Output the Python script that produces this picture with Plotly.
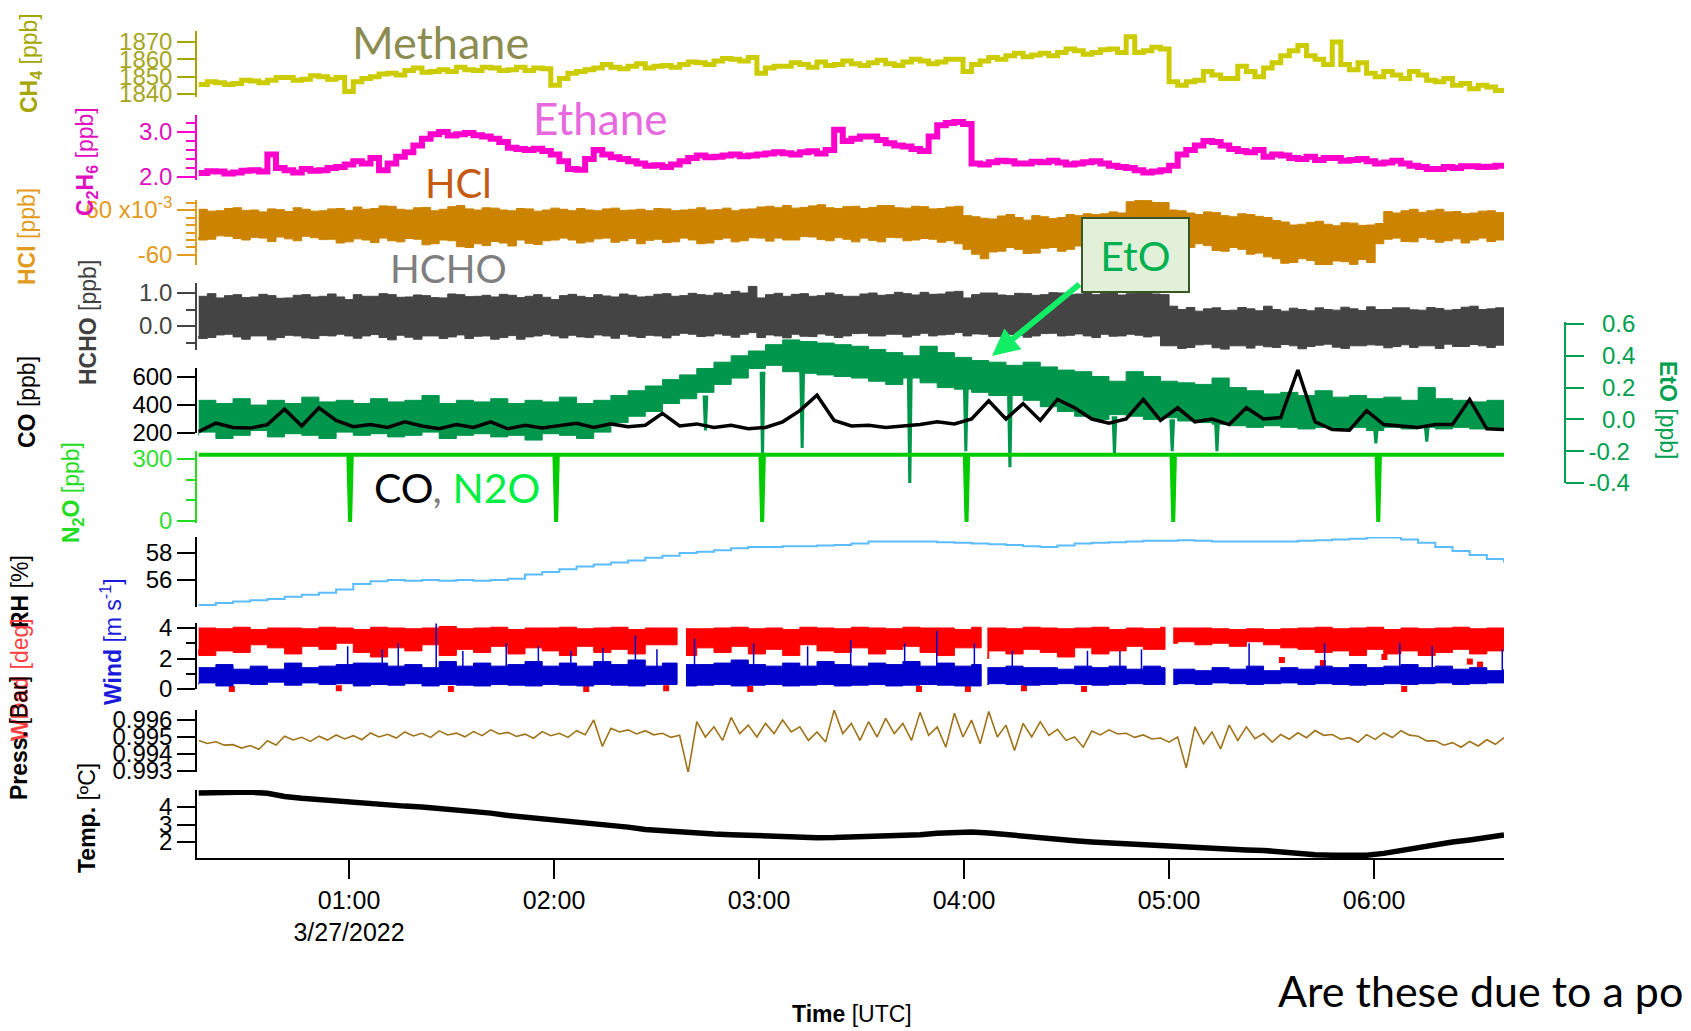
import pandas as pd
import plotly.graph_objects as go

W, H = 1691, 1031
DAY = pd.Timestamp("2022-03-27")

# ---------------- data ----------------
time = pd.date_range("2022-03-27 00:16", "2022-03-27 06:38", periods=77)    # 5-min grid
time2 = pd.date_range("2022-03-27 00:16", "2022-03-27 06:38", periods=153)  # 2.5-min grid

ch4 = [1845.5, 1847, 1846.5, 1845.5, 1846, 1848, 1847.5, 1846.5, 1848, 1849.5,
       1849.5, 1848, 1848.5, 1850.5, 1850, 1848.5, 1849.5, 1841.5, 1847, 1849,
       1850, 1851.5, 1852, 1851, 1853.5, 1855, 1852.5, 1853, 1854, 1853,
       1855.5, 1854, 1853.5, 1855.5, 1855, 1853.5, 1854, 1855.5, 1853.5, 1855,
       1854.5, 1845, 1849, 1852, 1853, 1854, 1855, 1857, 1855.5, 1854.5,
       1856, 1857.5, 1855, 1856, 1856.5, 1855.5, 1857, 1858.5, 1858, 1857,
       1859, 1860.5, 1860, 1859, 1861, 1852, 1855, 1856, 1856, 1858,
       1857, 1855.5, 1858.5, 1856.5, 1857, 1859, 1857.5, 1856.5, 1858, 1859.5,
       1857.5, 1856.5, 1858.5, 1860, 1859, 1857.5, 1858.5, 1860, 1860, 1853,
       1857, 1859, 1861, 1860, 1862, 1863.5, 1861.5, 1862.5, 1863.5, 1862,
       1864, 1866, 1865, 1863, 1864, 1865.5, 1866, 1864, 1873, 1864,
       1865, 1867, 1866, 1847, 1845, 1847, 1848, 1853, 1851, 1849,
       1849, 1856, 1853, 1850, 1855, 1858, 1862, 1865, 1868, 1862,
       1860, 1857, 1870, 1857, 1854, 1858, 1852, 1850, 1853, 1851,
       1849, 1853, 1851, 1848, 1847, 1849, 1845, 1846, 1843, 1845,
       1844, 1842, 1843]

c2h6 = [2.09, 2.13, 2.12, 2.08, 2.10, 2.14, 2.15, 2.12, 2.5, 2.2,
        2.15, 2.1, 2.18, 2.14, 2.15, 2.2, 2.22, 2.28, 2.35, 2.3,
        2.42, 2.15, 2.3, 2.45, 2.55, 2.7, 2.85, 2.95, 3.0, 2.92,
        2.95, 2.98, 2.93, 2.9, 2.85, 2.78, 2.65, 2.62, 2.6, 2.63,
        2.58, 2.5, 2.35, 2.18, 2.16, 2.4, 2.6, 2.5, 2.44, 2.4,
        2.35, 2.3, 2.25, 2.26, 2.22, 2.28, 2.35, 2.42, 2.48, 2.44,
        2.45, 2.48, 2.5, 2.46, 2.48, 2.5, 2.52, 2.55, 2.53, 2.5,
        2.55, 2.57, 2.52, 2.6, 3.05, 2.8, 2.85, 2.9, 2.9, 2.82,
        2.75, 2.7, 2.68, 2.62, 2.58, 2.9, 3.15, 3.2, 3.22, 3.18,
        2.3, 2.28, 2.33, 2.36, 2.35, 2.3, 2.3, 2.34, 2.33, 2.36,
        2.32, 2.28, 2.3, 2.33, 2.35, 2.3, 2.25, 2.22, 2.2, 2.15,
        2.1, 2.12, 2.15, 2.25, 2.5, 2.6, 2.7, 2.8, 2.78, 2.7,
        2.62, 2.58, 2.55, 2.6, 2.45, 2.5, 2.48, 2.42, 2.4, 2.45,
        2.38, 2.42, 2.42, 2.36, 2.38, 2.4, 2.35, 2.3, 2.32, 2.36,
        2.3, 2.25, 2.22, 2.18, 2.18, 2.22, 2.2, 2.24, 2.24, 2.22,
        2.23, 2.25, 2.24]

hcl_hi = [62, 57, 58, 64, 66, 59, 60, 55, 63, 61,
          56, 66, 62, 57, 58, 63, 64, 59, 68, 62,
          64, 71, 70, 62, 60, 66, 67, 58, 62, 69,
          72, 63, 60, 66, 65, 60, 58, 64, 63, 57,
          60, 65, 62, 58, 64, 60, 58, 63, 65, 59,
          60, 62, 58, 64, 63, 58, 60, 62, 66, 60,
          61, 65, 58, 62, 63, 68, 70, 66, 72, 65,
          67, 71, 74, 66, 64, 69, 70, 64, 67, 72,
          72, 66, 65, 70, 69, 63, 64, 68, 70, 45,
          42, 38, 36, 44, 48, 40, 33, 45, 42, 37,
          40, 48, 45, 50, 48, 50, 55, 52, 82, 86,
          85, 80, 80, 60, 58, 52, 48, 55, 53, 45,
          42, 50, 48, 43, 40, 32, 28, 20, 22, 27,
          30, 22, 18, 26, 25, 19, 20, 24, 56, 52,
          58, 62, 54, 58, 62, 55, 56, 50, 52, 57,
          58, 53, 54]
hcl_lo = [-12, -20, -18, -9, -10, -16, -20, -13, -15, -24,
          -12, -17, -22, -10, -14, -19, -18, -28, -25, -17,
          -20, -27, -15, -22, -25, -16, -18, -33, -30, -20,
          -22, -38, -40, -30, -35, -24, -28, -36, -20, -29,
          -32, -22, -20, -15, -20, -28, -25, -17, -15, -26,
          -22, -16, -30, -21, -18, -27, -25, -15, -20, -30,
          -28, -19, -15, -25, -22, -14, -15, -23, -15, -20,
          -20, -11, -12, -19, -22, -14, -18, -25, -15, -21,
          -25, -13, -14, -22, -20, -16, -18, -26, -22, -30,
          -45, -58, -70, -52, -50, -40, -45, -56, -55, -42,
          -40, -50, -45, -36, -40, -30, -35, -26, -20, -27,
          -25, -18, -28, -22, -25, -38, -40, -30, -35, -48,
          -50, -40, -45, -58, -55, -65, -70, -82, -80, -70,
          -75, -90, -88, -76, -78, -85, -72, -80, -30, -18,
          -15, -24, -25, -14, -18, -26, -22, -17, -28, -20,
          -15, -24, -20]

hcho_hi = [0.9, 0.98, 0.85, 0.92, 0.95, 0.86, 0.88, 0.96, 0.92, 0.84,
           0.85, 0.93, 0.95, 0.88, 0.9, 0.97, 0.88, 0.8, 0.95, 0.9,
           0.9, 0.98, 0.95, 0.87, 0.88, 0.94, 0.92, 0.86, 0.85, 0.97,
           0.95, 0.89, 0.9, 0.93, 0.88, 0.96, 0.93, 0.86, 0.9, 0.95,
           0.87, 0.8, 0.92, 0.96, 0.9, 0.86, 0.95, 0.91, 0.88, 0.97,
           0.93, 0.88, 0.9, 0.96, 0.98, 0.9, 0.92, 0.99, 0.95, 0.93,
           1.0, 0.95, 1.05, 1.0, 1.2, 0.85, 0.95, 0.99, 0.9, 0.96,
           0.98, 0.9, 0.92, 1.0, 0.95, 0.9, 0.9, 0.97, 1.0, 0.93,
           0.95, 1.02, 0.98, 0.94, 1.02, 0.96, 0.97, 1.03, 1.05, 0.85,
           0.95, 1.0, 1.0, 0.94, 0.92, 0.99, 0.98, 0.93, 0.95, 1.01,
           1.0, 0.95, 0.97, 1.03, 0.95, 0.99, 1.0, 0.94, 0.98, 1.04,
           1.02, 0.97, 0.95, 0.6, 0.5, 0.56, 0.45, 0.52, 0.55, 0.47,
           0.48, 0.56, 0.52, 0.46, 0.6, 0.5, 0.45, 0.54, 0.5, 0.46,
           0.55, 0.5, 0.48, 0.57, 0.52, 0.47, 0.58, 0.5, 0.5, 0.55,
           0.55, 0.49, 0.48, 0.56, 0.53, 0.48, 0.5, 0.57, 0.6, 0.5,
           0.52, 0.55, 0.5]
hcho_lo = [-0.3, -0.38, -0.35, -0.27, -0.25, -0.33, -0.4, -0.3, -0.3, -0.42,
           -0.35, -0.28, -0.3, -0.36, -0.38, -0.29, -0.3, -0.25, -0.3, -0.37,
           -0.3, -0.26, -0.35, -0.42, -0.28, -0.34, -0.4, -0.3, -0.3, -0.38,
           -0.33, -0.27, -0.38, -0.31, -0.3, -0.4, -0.35, -0.29, -0.4, -0.33,
           -0.3, -0.25, -0.3, -0.36, -0.28, -0.33, -0.35, -0.27, -0.3, -0.37,
           -0.25, -0.31, -0.35, -0.28, -0.3, -0.36, -0.28, -0.22, -0.25, -0.32,
           -0.3, -0.24, -0.28, -0.34, -0.25, -0.2, -0.35, -0.27, -0.3, -0.36,
           -0.25, -0.31, -0.32, -0.24, -0.28, -0.35, -0.3, -0.23, -0.22, -0.3,
           -0.3, -0.25, -0.25, -0.33, -0.28, -0.22, -0.3, -0.27, -0.25, -0.2,
           -0.3, -0.24, -0.25, -0.32, -0.32, -0.26, -0.28, -0.34, -0.3, -0.23,
           -0.22, -0.3, -0.28, -0.24, -0.3, -0.35, -0.25, -0.31, -0.3, -0.25,
           -0.28, -0.33, -0.3, -0.6, -0.6, -0.68, -0.65, -0.57, -0.55, -0.66,
           -0.7, -0.6, -0.6, -0.67, -0.58, -0.63, -0.65, -0.56, -0.6, -0.69,
           -0.62, -0.58, -0.55, -0.64, -0.68, -0.6, -0.6, -0.57, -0.58, -0.66,
           -0.62, -0.57, -0.65, -0.6, -0.6, -0.68, -0.55, -0.62, -0.62, -0.56,
           -0.6, -0.65, -0.58]

co = [210, 270, 240, 235, 260, 370, 250, 380, 290, 245,
      260, 240, 280, 250, 230, 260, 240, 280, 230, 255,
      235, 250, 270, 240, 265, 245, 255, 340, 250, 265,
      240, 255, 230, 240, 280, 360, 470, 290, 250, 255,
      240, 250, 260, 280, 265, 300, 430, 300, 410, 290,
      440, 380, 300, 270, 300, 440, 290, 380, 280, 300,
      260, 380, 300, 310, 650, 280, 225, 220, 360, 260,
      250, 240, 260, 260, 440, 230, 225]

eto_hi = [0.12, 0.10, 0.13, 0.09, 0.12, 0.10, 0.14, 0.11, 0.12, 0.10,
          0.13, 0.11, 0.12, 0.15, 0.10, 0.12, 0.11, 0.13, 0.10, 0.12,
          0.11, 0.14, 0.10, 0.12, 0.15, 0.18, 0.21, 0.25, 0.28, 0.32,
          0.36, 0.40, 0.43, 0.47, 0.50, 0.49, 0.48, 0.47, 0.46, 0.44,
          0.42, 0.40, 0.46, 0.42, 0.39, 0.37, 0.36, 0.34, 0.36, 0.33,
          0.31, 0.30, 0.27, 0.24, 0.30, 0.27, 0.24, 0.23, 0.22, 0.26,
          0.20, 0.18, 0.16, 0.17, 0.15, 0.18, 0.14, 0.15, 0.13, 0.14,
          0.12, 0.20, 0.13, 0.12, 0.11, 0.12, 0.11]
eto_lo = [-0.10, -0.08, -0.12, -0.10, -0.07, -0.11, -0.09, -0.10, -0.12, -0.08,
          -0.10, -0.09, -0.11, -0.10, -0.08, -0.12, -0.10, -0.09, -0.11, -0.10,
          -0.13, -0.09, -0.10, -0.12, -0.08, -0.02, 0.02, 0.05, 0.10, 0.13,
          0.17, 0.22, 0.26, 0.32, 0.34, 0.30, 0.29, 0.28, 0.27, 0.26,
          0.24, 0.22, 0.26, 0.23, 0.20, 0.19, 0.17, 0.15, 0.15, 0.12,
          0.08, 0.05, 0.02, 0.00, 0.03, 0.02, 0.00, 0.01, -0.01, -0.02,
          -0.03, -0.04, -0.05, -0.04, -0.05, -0.06, -0.05, -0.06, -0.05, -0.07,
          -0.05, -0.06, -0.05, -0.06, -0.05, -0.06, -0.05]

# EtO sharp dips: minutes after 00:00, value at top, value at bottom
eto_dip_min = [164.3, 181.0, 192.6, 224.1, 240.5, 253.4, 284.0, 300.9, 314.0, 360.5, 375.4]
eto_dip_top = [0.15, 0.30, 0.30, 0.26, 0.20, 0.16, 0.02, 0.00, -0.02, -0.05, -0.05]
eto_dip_bot = [-0.07, -0.25, -0.18, -0.43, -0.20, -0.30, -0.22, -0.20, -0.20, -0.15, -0.14]

n2o_min = [16, 59.8, 60.3, 60.8, 120.1, 120.6, 121.1, 180.4, 180.9, 181.4,
           240.2, 240.7, 241.2, 300.7, 301.2, 301.7, 360.7, 361.2, 361.7, 398]
n2o = [320, 320, -5, 320, 320, -5, 320, 320, -5, 320,
       320, -5, 320, 320, -5, 320, 320, -5, 320, 320]

rh = [54.15, 54.3, 54.4, 54.5, 54.6, 54.75, 54.9, 55.05, 55.3, 55.7,
      55.9, 56.0, 55.95, 56.0, 55.95, 56.0, 55.95, 56.0, 56.1, 56.4,
      56.6, 56.8, 57.0, 57.15, 57.3, 57.45, 57.65, 57.8, 58.0, 58.1,
      58.2, 58.35, 58.45, 58.45, 58.5, 58.5, 58.55, 58.6, 58.7, 58.85,
      58.85, 58.85, 58.85, 58.8, 58.75, 58.7, 58.65, 58.6, 58.5, 58.45,
      58.55, 58.7, 58.75, 58.8, 58.85, 58.9, 58.9, 58.95, 58.9, 58.85,
      58.85, 58.85, 58.85, 58.85, 58.9, 58.95, 59.0, 59.05, 59.15, 59.15,
      59.0, 58.75, 58.45, 58.15, 57.85, 57.55, 57.3]

wd_hi = [4.0, 3.95, 4.05, 3.9, 4.0, 4.0, 3.95, 4.05, 4.0, 3.9,
         4.05, 4.0, 3.95, 4.0, 4.1, 3.95, 4.0, 4.05, 3.9, 4.0,
         4.0, 4.05, 3.95, 4.0, 4.05, 3.9, 4.0, 4.0, 4.05, 3.95,
         4.0, 4.05, 3.95, 4.0, 3.9, 4.05, 4.0, 3.95, 4.05, 4.0,
         3.95, 4.05, 4.0, 4.0, 3.9, 4.05, 4.0, 3.95, 4.05, 4.0,
         3.95, 4.0, 4.05, 3.9, 4.0, 3.95, 4.05, 4.0, 4.0, 3.95,
         3.9, 3.95, 3.9, 3.95, 4.0, 4.05, 3.95, 4.0, 4.05, 3.9,
         4.0, 3.95, 4.0, 4.05, 3.95, 4.0, 3.95]
wd_lo = [2.6, 2.2, 2.5, 2.4, 2.9, 2.7, 2.3, 2.8, 2.6, 3.0,
         2.4, 2.1, 2.7, 2.5, 2.9, 2.2, 2.6, 2.4, 2.8, 2.3,
         2.7, 2.5, 2.2, 2.8, 2.4, 2.6, 2.3, 2.9, 2.5, 2.2,
         2.7, 2.4, 2.8, 2.3, 2.6, 2.2, 2.9, 2.5, 2.4, 2.7,
         2.3, 2.6, 2.8, 2.4, 2.2, 2.7, 2.0, 2.5, 2.3, 2.6,
         2.4, 2.1, 2.7, 2.3, 2.5, 2.8, 2.6, 3.0, 3.1, 2.9,
         3.0, 2.8, 3.1, 2.9, 2.7, 2.6, 2.4, 2.5, 2.2, 2.6,
         2.3, 2.5, 2.2, 2.4, 2.6, 2.3, 2.5]
wd_dot_min = [19.6, 25.7, 38, 57, 66.4, 72.6, 89.8, 99.8, 113.3, 120.6,
              129.4, 135.5, 142.8, 152.8, 161.3, 168.6, 177.4, 195.8, 211.3, 218,
              226.8, 230.6, 237.4, 241.1, 248.8, 253.8, 257.5, 271.9, 275.1, 281.3,
              290, 306.1, 339.5, 360, 368.8, 377.5, 384.6, 397.5,
              333, 345, 363, 388, 391]
wd_dot = [-0.15, 0.0, -0.2, 0.05, -0.15, -0.2, 0.0, -0.2, -0.1, -0.2,
          0.0, -0.15, -0.2, 0.05, -0.1, -0.2, 0.0, -0.15, -0.2, -0.1,
          0.0, -0.2, -0.15, 0.0, -0.2, -0.1, 0.05, -0.2, 0.0, -0.15,
          -0.2, -0.1, -0.2, -0.15, 0.0, -0.2, -0.1, -0.15,
          1.9, 1.7, 2.1, 1.8, 1.6]

ws_hi = [1.4, 1.6, 1.3, 1.5, 1.3, 1.7, 1.4, 1.5, 1.6, 1.7,
         1.7, 1.5, 1.6, 1.4, 1.8, 1.5, 1.7, 1.5, 1.6, 1.8,
         1.5, 1.7, 1.5, 1.8, 1.6, 1.9, 1.5, 1.7, 1.8, 1.6,
         1.7, 1.9, 1.6, 1.5, 1.7, 1.5, 1.8, 1.6, 1.5, 1.7,
         1.6, 1.8, 1.5, 1.7, 1.5, 1.6, 1.4, 1.5, 1.4, 1.4,
         1.3, 1.5, 1.4, 1.5, 1.3, 1.5, 1.4, 1.3, 1.2, 1.4,
         1.3, 1.5, 1.2, 1.4, 1.3, 1.5, 1.4, 1.6, 1.4, 1.5,
         1.6, 1.4, 1.5, 1.3, 1.4, 1.2, 1.3]
ws_lo = [0.3, 0.4, 0.2, 0.35, 0.3, 0.45, 0.25, 0.4, 0.3, 0.35,
         0.2, 0.3, 0.25, 0.35, 0.2, 0.3, 0.25, 0.2, 0.3, 0.25,
         0.2, 0.3, 0.25, 0.2, 0.3, 0.25, 0.2, 0.3, 0.25, 0.2,
         0.25, 0.3, 0.2, 0.25, 0.3, 0.2, 0.25, 0.3, 0.2, 0.25,
         0.3, 0.2, 0.25, 0.3, 0.25, 0.2, 0.3, 0.35, 0.3, 0.25,
         0.3, 0.35, 0.3, 0.25, 0.3, 0.35, 0.3, 0.3, 0.35, 0.3,
         0.4, 0.35, 0.3, 0.35, 0.4, 0.3, 0.35, 0.3, 0.25, 0.3,
         0.35, 0.3, 0.35, 0.4, 0.3, 0.35, 0.4]
ws_spike_min = [59.6, 69.7, 74.4, 85.5, 93.3, 106, 115.4, 124.9, 134.3, 143.8,
                150.1, 161.1, 178.4, 194.2, 206.8, 222.6, 232, 243, 254.1, 276.1,
                285.6, 291.9, 323.4, 345.5, 367.5, 377, 397.5]
ws_spike = [2.8, 2.6, 3.0, 4.3, 2.5, 3.0, 2.8, 2.5, 2.7, 3.5,
            2.6, 3.3, 3.0, 2.8, 3.2, 3.0, 3.8, 3.0, 2.5, 2.5,
            2.5, 2.6, 3.0, 3.0, 3.0, 2.8, 2.6]
wind_gap_start = [156.0, 245.0, 298.8]   # minutes after 00:00 where the wind record stops
wind_gap_end = [158.6, 246.8, 301.2]

press_hi = [0.99480, 0.99472, 0.99455, 0.99450, 0.99478, 0.99505, 0.99498, 0.99505, 0.99512, 0.99508,
            0.99524, 0.99516, 0.99530, 0.99522, 0.99536, 0.99523, 0.99532, 0.99542, 0.99527, 0.99517,
            0.99532, 0.99522, 0.99537, 0.99600, 0.99552, 0.99542, 0.99537, 0.99522, 0.99510, 0.99590,
            0.99560, 0.99615, 0.99570, 0.99580, 0.99600, 0.99560, 0.99530, 0.99659, 0.99580, 0.99590,
            0.99610, 0.99580, 0.99645, 0.99560, 0.99640, 0.99600, 0.99650, 0.99570, 0.99580, 0.99590,
            0.99545, 0.99500, 0.99535, 0.99542, 0.99522, 0.99512, 0.99494, 0.99500, 0.99560, 0.99530,
            0.99570, 0.99560, 0.99520, 0.99515, 0.99525, 0.99538, 0.99515, 0.99496, 0.99514, 0.99524,
            0.99537, 0.99504, 0.99478, 0.99467, 0.99474, 0.99484, 0.99496]
press_lo = [0.99462, 0.99452, 0.99435, 0.99428, 0.99453, 0.99483, 0.99474, 0.99482, 0.99489, 0.99484,
            0.99500, 0.99494, 0.99506, 0.99498, 0.99512, 0.99501, 0.99508, 0.99518, 0.99503, 0.99493,
            0.99508, 0.99498, 0.99513, 0.99445, 0.99530, 0.99518, 0.99513, 0.99498, 0.99290, 0.99500,
            0.99480, 0.99520, 0.99500, 0.99520, 0.99530, 0.99480, 0.99470, 0.99520, 0.99480, 0.99500,
            0.99520, 0.99480, 0.99510, 0.99440, 0.99500, 0.99460, 0.99500, 0.99420, 0.99500, 0.99510,
            0.99480, 0.99440, 0.99512, 0.99518, 0.99498, 0.99488, 0.99470, 0.99318, 0.99460, 0.99430,
            0.99480, 0.99490, 0.99470, 0.99487, 0.99496, 0.99510, 0.99487, 0.99469, 0.99486, 0.99497,
            0.99511, 0.99477, 0.99452, 0.99440, 0.99447, 0.99457, 0.99469]

temp = [4.8, 4.82, 4.84, 4.85, 4.78, 4.6, 4.5, 4.42, 4.32, 4.22,
        4.18, 4.1, 4.05, 4.0, 3.92, 3.86, 3.78, 3.65, 3.52, 3.43,
        3.32, 3.2, 3.1, 3.03, 2.97, 2.85, 2.72, 2.65, 2.55, 2.5,
        2.46, 2.42, 2.38, 2.33, 2.29, 2.27, 2.25, 2.26, 2.28, 2.3,
        2.35, 2.38, 2.42, 2.5, 2.55, 2.57, 2.52, 2.42, 2.33, 2.25,
        2.15, 2.07, 2.0, 1.95, 1.88, 1.8, 1.74, 1.7, 1.67, 1.62,
        1.58, 1.55, 1.52, 1.42, 1.33, 1.27, 1.25, 1.24, 1.25, 1.35,
        1.52, 1.68, 1.85, 2.0, 2.12, 2.28, 2.4]

hour_ticks = ["2022-03-27 01:00", "2022-03-27 02:00", "2022-03-27 03:00",
              "2022-03-27 04:00", "2022-03-27 05:00", "2022-03-27 06:00"]
hour_labels = ["01:00<br>3/27/2022", "02:00", "03:00", "04:00", "05:00", "06:00"]
eto_ticks = [-0.4, -0.2, 0.0, 0.2, 0.4, 0.6]
eto_labels = ["-0.4", "-0.2", "\u00a0\u00a00.0", "\u00a0\u00a00.2", "\u00a0\u00a00.4", "\u00a0\u00a00.6"]

for arr in [co, eto_hi, eto_lo, rh, wd_hi, wd_lo, ws_hi, ws_lo, press_hi, press_lo, temp]:
    assert len(arr) == 77, len(arr)
for arr in [ch4, c2h6, hcl_hi, hcl_lo, hcho_hi, hcho_lo]:
    assert len(arr) == 153, len(arr)


# ---------------- helpers ----------------
def tm(m):
    return DAY + pd.Timedelta(minutes=m)


def band(t, lo, hi, color, yaxis, gap_start=(), gap_end=()):
    """Filled band between lo and hi envelopes, optionally broken at gaps."""
    mins = [(v - DAY).total_seconds() / 60 for v in t]
    starts = [mins[0]] + list(gap_end)
    ends = list(gap_start) + [mins[-1]]
    xs, ys = [], []
    for s, e in zip(starts, ends):
        idx = [i for i, m in enumerate(mins) if s <= m <= e]
        sx = [s] + [mins[i] for i in idx] + [e]
        sh = [hi[idx[0]]] + [hi[i] for i in idx] + [hi[idx[-1]]]
        sl = [lo[idx[0]]] + [lo[i] for i in idx] + [lo[idx[-1]]]
        st = [tm(m) for m in sx]
        xs += st + st[::-1] + [None]
        ys += sh + sl[::-1] + [None]
    return go.Scatter(x=xs, y=ys, mode="lines", fill="toself", fillcolor=color,
                      line=dict(color=color, width=1, shape="hv"), yaxis=yaxis,
                      hoverinfo="skip", showlegend=False)


def line(x, y, color, width, yaxis, shape="linear"):
    return go.Scatter(x=x, y=y, mode="lines",
                      line=dict(color=color, width=width, shape=shape),
                      yaxis=yaxis, hoverinfo="skip", showlegend=False)


C_CH4, C_C2H6, C_HCL, C_HCHO = "#cccc00", "#ff00cc", "#cc8400", "#444444"
C_ETO, C_N2O, C_RH, C_PRESS = "#00964b", "#00cc00", "#5bbcff", "#a0731a"

fig = go.Figure()
fig.add_trace(line(time2, ch4, C_CH4, 5, "y", "hv"))
fig.add_trace(line(time2, c2h6, C_C2H6, 6, "y2", "hv"))
fig.add_trace(band(time2, hcl_lo, hcl_hi, C_HCL, "y3"))
fig.add_trace(band(time2, hcho_lo, hcho_hi, C_HCHO, "y4"))
fig.add_trace(band(time, eto_lo, eto_hi, C_ETO, "y5"))
dx, dy = [], []
for t, top, bot in zip(eto_dip_min, eto_dip_top, eto_dip_bot):
    dx += [tm(t - 0.4), tm(t), tm(t + 0.4), None]
    dy += [top, bot, top, None]
fig.add_trace(line(dx, dy, C_ETO, 3, "y5"))
fig.add_trace(line(time, co, "#000000", 3.5, "y6"))
fig.add_trace(line([tm(m) for m in n2o_min], n2o, C_N2O, 4, "y7"))
fig.add_trace(line(time, rh, C_RH, 2, "y8", "hv"))
fig.add_trace(band(time, wd_lo, wd_hi, "#ff0000", "y9", wind_gap_start, wind_gap_end))
fig.add_trace(go.Scatter(x=[tm(m) for m in wd_dot_min], y=wd_dot, mode="markers",
                         marker=dict(symbol="square", size=6, color="#ff0000"),
                         cliponaxis=False, yaxis="y9", hoverinfo="skip", showlegend=False))
fig.add_trace(band(time, ws_lo, ws_hi, "#0000cc", "y9", wind_gap_start, wind_gap_end))
sx, sy = [], []
for t, v in zip(ws_spike_min, ws_spike):
    sx += [tm(t), tm(t), None]
    sy += [1.0, v, None]
fig.add_trace(line(sx, sy, "#0000cc", 1.5, "y9"))
# pressure: noisy trace alternating between the read upper and lower envelopes
pz = []
for k in range(len(press_hi)):
    pz.append(press_hi[k])
    if k < len(press_hi) - 1:
        pz.append(press_lo[k])
fig.add_trace(line(time2, pz, C_PRESS, 1.6, "y10"))
fig.add_trace(line(time, temp, "#000000", 5.5, "y11"))

FONT = "Liberation Sans, Arial, sans-serif"


def yax(top, bot, rng, color, labcolor, tickvals, ticktext=None, minor=None):
    d = dict(domain=[1 - bot / H, 1 - top / H], range=rng, anchor="x",
             showline=True, linecolor=color, linewidth=1.5,
             ticks="outside", ticklen=18, tickwidth=1.5, tickcolor=color,
             tickvals=tickvals, ticktext=ticktext, automargin=False,
             tickfont=dict(family=FONT, size=24, color=labcolor),
             showgrid=False, zeroline=False, fixedrange=True)
    if minor is not None:
        d["minor"] = dict(tickvals=minor, ticks="outside", ticklen=9,
                          tickwidth=1.5, tickcolor=color, showgrid=False)
    return d


fig.update_layout(
    width=W, height=H, margin=dict(l=0, r=0, t=0, b=0, pad=0, autoexpand=False),
    paper_bgcolor="white", plot_bgcolor="rgba(0,0,0,0)", showlegend=False,
    xaxis=dict(domain=[197 / W, 1504 / W], type="date", anchor="y11",
               range=["2022-03-27 00:15:30", "2022-03-27 06:38:00"],
               showline=True, linecolor="black", linewidth=1.5, automargin=False,
               ticks="outside", ticklen=19, tickwidth=1.5, tickcolor="black",
               tickvals=hour_ticks, ticktext=hour_labels,
               tickfont=dict(family=FONT, size=25, color="black"),
               showgrid=False, zeroline=False),
    yaxis=yax(31, 97, [1838.27, 1876.35], "#a6a600", "#a6a61e",
              [1840, 1850, 1860, 1870], ["1840", "1850", "1860", "1870"]),
    yaxis2=yax(115, 180, [1.933, 3.378], "#ff00cc", "#e010c0",
               [2.0, 3.0], ["2.0", "3.0"], [2.2, 2.4, 2.6, 2.8, 3.2]),
    yaxis3=yax(200, 265, [-86.7, 86.7], "#e39b1e", "#e39b1e",
               [-60, 60], ["-60", "60 x10<sup>-3</sup>"], [-40, -20, 0, 20, 40, 80]),
    yaxis4=yax(283, 350, [-0.727, 1.303], "#444444", "#444444",
               [0.0, 1.0], ["0.0", "1.0"], [-0.5, 0.5]),
    yaxis5=dict(domain=[1 - 483 / H, 1 - 322 / H], range=[-0.4, 0.6126],
                anchor="free", position=1565 / W, side="right", automargin=False,
                showline=True, linecolor="#00a050", linewidth=1.5,
                ticks="outside", ticklen=18, tickwidth=1.5, tickcolor="#00a050",
                tickvals=eto_ticks, ticktext=eto_labels,
                tickfont=dict(family=FONT, size=24, color="#00a050"),
                showgrid=False, zeroline=False),
    yaxis6=yax(368, 433, [200, 664.3], "#000000", "#000000",
               [200, 400, 600], ["200", "400", "600"]),
    yaxis7=yax(451, 523, [-9.7, 338.7], "#22dd22", "#33dd33",
               [0, 300], ["0", "300"], [100, 200]),
    yaxis8=yax(537, 607, [54.0, 59.185], "#000000", "#000000",
               [56, 58], ["56", "58"]),
    yaxis9=yax(623, 689, [0, 4.328], "#000000", "#000000",
               [0, 2, 4], ["0", "2", "4"], [1, 3]),
    yaxis10=yax(710, 772, [0.99294, 0.99659], "#000000", "#000000",
                [0.993, 0.994, 0.995, 0.996], ["0.993", "0.994", "0.995", "0.996"]),
    yaxis11=yax(790, 858, [1.086, 4.971], "#000000", "#000000",
                [2, 3, 4], ["2", "3", "4"]),
)


def ann(px, py, text, color, size=23, angle=-90, family=FONT, **kw):
    d = dict(x=px / W, y=1 - py / H, xref="paper", yref="paper", text=text,
             showarrow=False, textangle=angle, xanchor="center", yanchor="middle",
             font=dict(family=family, size=size, color=color))
    d.update(kw)
    fig.add_annotation(**d)


# axis titles
ann(30, 63, "<b>CH<sub>4</sub></b> [ppb]", "#a6a600")
ann(86, 162, "<b>C<sub>2</sub>H<sub>6</sub></b> [ppb]", "#e010c0")
ann(27, 237, "<b>HCl</b> [ppb]", "#e39b1e")
ann(88, 323, "<b>HCHO</b> [ppb]", "#404040")
ann(27, 402, "<b>CO</b> [ppb]", "#000000")
ann(73, 493, "<b>N<sub>2</sub>O</b> [ppb]", "#22dd22")
ann(20, 592, "<b>RH</b> [%]", "#000000")
ann(20, 680, "<b>WDad</b> [deg]", "#ff4040")
ann(111, 642, "<b>Wind</b> [m s<sup>-1</sup>]", "#1a1adb")
ann(19, 738, "<b>Press.</b> [Bar]", "#000000")
ann(87, 818, "<b>Temp.</b> [ºC]", "#000000")
ann(1668, 410, "<b>EtO</b> [ppb]", "#00a050", angle=90)
ann(852, 1014, "<b>Time</b> [UTC]", "#000000", size=23, angle=0)

# slide annotations
CAL = "Lato, Open Sans, sans-serif"
ann(440, 42, "Methane", "#8c8c50", size=45, angle=0, family=CAL)
ann(600, 118, "Ethane", "#e868e0", size=44, angle=0, family=CAL)
ann(458, 183, "HCl", "#c55a11", size=40, angle=0, family=CAL)
ann(448, 268, "HCHO", "#7f7f7f", size=39, angle=0, family=CAL)
ann(457, 487, "CO<span style='color:#808080'>, </span><span style='color:#00ee44'>N2O</span>",
    "#000000", size=41, angle=0, family=CAL)
fig.add_annotation(x=992 / W, y=1 - 356 / H, xref="paper", yref="paper", text="",
                   showarrow=True, ax=89, ay=-73, arrowhead=2, arrowsize=0.9,
                   arrowwidth=6, arrowcolor="#11ee66")
ann(1135.5, 255, "EtO", "#00b050", size=41, angle=0, family=CAL,
    bgcolor="#e2f0d9", bordercolor="#385723", borderwidth=2, borderpad=0,
    width=105, height=72)
ann(1276, 990, "Are these due to a po", "#000000", size=43, angle=0, family=CAL,
    xanchor="left")

fig.write_html("out.html")
